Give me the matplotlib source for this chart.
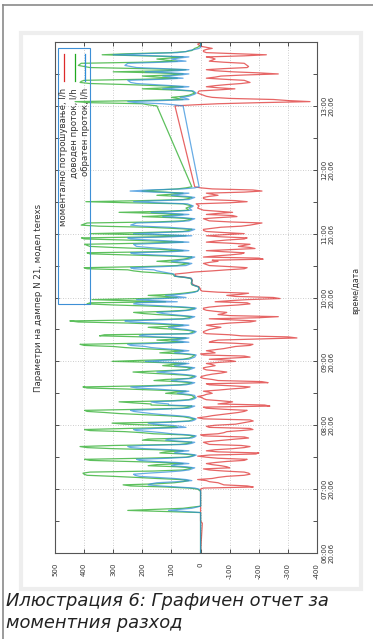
import numpy as np
import matplotlib
matplotlib.use("Agg")
import matplotlib.pyplot as plt
from matplotlib.lines import Line2D
from matplotlib.patches import Rectangle

W, H = 373, 639

# time axis in minutes after 06:00 (20.06)
idle_min = [0, 28, 30, 38, 40, 42, 44, 58]
idle_red = [0, -6, 0, 0, 0, 0, 0, 0]
idle_green = [0, 0, 0, 0, 250, 60, 0, 0]
idle_blue = [0, 0, 0, 0, 110, 30, 0, 0]

# 07:00 - 11:44, one reading per minute
day_start = 60
green_day = [
    10, 40, 120, 240, 266, 150, 90, 60, 40, 70, 150, 220, 300, 390, 400, 404, 380, 160, 60, 40,
    30, 80, 180, 150, 60, 120, 250, 380, 398, 200, 50, 30, 20, 60, 140, 120, 60, 150, 300, 390,
    414, 300, 70, 40, 30, 100, 200, 180, 40, 30, 20, 60, 160, 200, 260, 380, 398, 250, 80, 100,
    150, 260, 304, 120, 40, 30, 20, 40, 60, 120, 200, 280, 330, 390, 398, 200, 60, 40, 30, 170,
    170, 230, 280, 100, 40, 30, 20, 25, 30, 60, 120, 90, 50, 150, 250, 390, 404, 200, 70, 40,
    30, 80, 160, 120, 40, 30, 20, 50, 110, 180, 232, 150, 50, 40, 30, 80, 130, 100, 50, 150,
    304, 200, 60, 40, 30, 25, 20, 60, 140, 100, 60, 120, 200, 260, 300, 400, 414, 220, 60, 100,
    150, 80, 50, 200, 347, 330, 40, 30, 20, 40, 80, 140, 180, 100, 60, 150, 250, 420, 449, 200,
    60, 40, 30, 80, 150, 200, 230, 120, 50, 30, 20, 80, 180, 300, 390, 380, 120, 250, 373, 200,
    80, 120, 180, 100, 60, 30, 10, 8, 5, 6, 8, 20, 30, 32, 32, 30, 30, 32, 35, 60,
    90, 92, 95, 140, 198, 230, 250, 390, 400, 200, 80, 60, 40, 90, 150, 100, 60, 40, 30, 120,
    250, 380, 390, 150, 60, 120, 200, 300, 380, 390, 398, 200, 60, 150, 260, 400, 409, 150, 50, 200,
    380, 200, 60, 40, 30, 100, 180, 350, 410, 400, 390, 150, 60, 40, 30, 100, 200, 120, 60, 150,
    280, 120, 40, 45, 50, 40, 30, 45, 60, 250, 394, 200, 60, 40, 30, 80, 150, 100, 60, 120,
    201, 150, 80, 50, 30,
]
blue_day = [
    5, 20, 80, 140, 180, 170, 150, 80, 30, 50, 90, 150, 210, 225, 230, 180, 120, 70, 40, 30,
    20, 50, 100, 90, 40, 80, 160, 210, 220, 110, 40, 25, 15, 40, 90, 80, 40, 100, 190, 240,
    250, 200, 50, 30, 20, 70, 120, 110, 30, 20, 15, 40, 100, 130, 170, 220, 230, 160, 50, 70,
    100, 160, 180, 90, 30, 20, 15, 30, 40, 80, 130, 170, 200, 230, 240, 130, 40, 30, 20, 110,
    110, 150, 170, 70, 30, 20, 15, 20, 20, 40, 80, 60, 40, 100, 150, 220, 240, 130, 50, 30,
    20, 50, 100, 80, 30, 20, 15, 30, 70, 110, 150, 100, 40, 30, 20, 50, 90, 70, 40, 100,
    190, 130, 40, 30, 20, 18, 15, 40, 90, 70, 40, 80, 130, 170, 190, 240, 250, 140, 40, 70,
    100, 60, 40, 150, 210, 200, 30, 20, 15, 30, 50, 90, 110, 70, 40, 100, 160, 240, 260, 130,
    40, 30, 20, 60, 100, 130, 150, 80, 40, 20, 15, 50, 120, 190, 230, 220, 80, 160, 220, 130,
    50, 80, 120, 70, 40, 20, 10, 7, 5, 6, 8, 18, 28, 30, 30, 30, 30, 30, 32, 55,
    88, 90, 92, 110, 130, 150, 160, 230, 240, 130, 50, 40, 30, 60, 100, 70, 40, 30, 20, 80,
    160, 230, 240, 100, 40, 80, 130, 180, 220, 225, 230, 130, 40, 100, 170, 240, 250, 100, 30, 120,
    230, 130, 40, 30, 20, 60, 110, 200, 240, 230, 220, 90, 40, 30, 20, 60, 130, 80, 40, 100,
    170, 80, 30, 35, 40, 30, 25, 35, 45, 150, 230, 130, 40, 30, 20, 50, 100, 70, 40, 160,
    242, 180, 60, 20, 5,
]
red_day = [
    0, -10, -181, -160, -80, -70, -60, -30, -20, 10, -40, -60, -90, -150, -170, -165, -150, -80, -30, -10,
    -100, -90, -70, -40, -20, -50, -90, -150, -160, -60, -20, 10, -30, -190, -200, -60, -20, -50, -110, -150,
    -170, -140, -30, -20, -10, -40, -80, -120, -165, -150, -10, 0, -60, -80, -90, -140, -180, -170, -30, -20,
    -50, -120, -140, -160, -181, -170, -10, 10, -20, -40, -70, -100, -130, -150, -160, -80, -20, -10, -238, -220,
    -60, -90, -110, -70, -20, -10, -5, 10, -10, -20, -40, -30, -10, -60, -100, -150, -170, -110, -30, -20,
    -232, -210, -60, -40, -10, 0, -5, -20, -40, -70, -90, -60, -20, -10, -10, -30, -50, -40, -20, -60,
    -120, -100, -30, -100, -170, -150, -10, 0, -50, -40, -20, -50, -80, -100, -120, -170, -180, -120, -30, -40,
    -60, -200, -331, -300, -140, -100, -20, -10, -10, -20, -30, -50, -70, -40, -20, -60, -100, -170, -190, -110,
    -30, -200, -267, -100, -60, -80, -90, -50, -20, -10, -10, -30, -70, -130, -170, -160, -50, -100, -160, -273,
    -250, -120, -90, -140, -165, -60, -5, 0, 0, 3, 5, 15, 25, 28, 30, 30, 28, 30, 32, 50,
    85, 86, 88, 50, 20, -40, -90, -150, -160, -100, -30, -20, -10, -30, -60, -40, -215, -200, -10, -50,
    -100, -140, -150, -80, -20, -100, -187, -170, -130, -150, -170, -100, -20, -50, -90, -150, -160, -70, -20, -80,
    -150, -80, -20, -10, -10, -40, -70, -140, -170, -190, -211, -100, -30, -20, -10, -60, -125, -110, -20, -60,
    -110, -60, -10, 0, 10, 8, 5, 10, 15, -100, -160, -120, -20, -10, -10, -30, -60, -40, -20, -150,
    -211, -180, -40, 0, 20,
]

# 13:00 - 14:00, one reading per minute (no data 11:44 - 13:00)
late_start = 420
green_late = [
    150, 180, 200, 380, 431, 200, 60, 80, 100, 60, 40, 30, 20, 25, 30, 100, 200, 120, 60, 150,
    250, 380, 414, 410, 400, 200, 80, 150, 200, 100, 60, 150, 300, 120, 50, 200, 380, 400, 420, 415,
    410, 200, 80, 120, 150, 100, 60, 200, 338, 250, 100, 50, 30, 25, 20, 10, 5, 0, 0, 0, 0,
]
blue_late = [
    60, 90, 130, 220, 250, 130, 40, 50, 70, 40, 30, 20, 15, 20, 25, 70, 130, 80, 40, 100,
    160, 220, 240, 245, 250, 130, 60, 100, 130, 70, 40, 100, 190, 80, 40, 130, 220, 240, 260, 255,
    250, 130, 50, 80, 100, 70, 40, 150, 300, 200, 80, 50, 40, 20, 5, 0, 0, 0, 0, 0, 0,
]
red_late = [
    88, 20, -60, -200, -376, -300, -250, -100, -40, -20, -10, 0, 10, 8, 5, -60, -118, -60, -20, -50,
    -90, -140, -170, -160, -150, -80, -20, -50, -70, -150, -267, -200, -110, -50, -20, -80, -160, -165, -160, -155,
    -150, -80, -30, -40, -50, -40, -20, -150, -226, -120, -20, -10, -10, -20, -40, -20, 0, 5, 10, 0, 0,
]

hour_ticks = [0, 60, 120, 180, 240, 300, 360, 420]
hour_labels = ["06:00\n20.06", "07:00\n20.06", "08:00\n20.06", "09:00\n20.06",
               "10:00\n20.06", "11:00\n20.06", "12:00\n20.06", "13:00\n20.06"]
value_ticks = [500, 400, 300, 200, 100, 0, -100, -200, -300, -400]

series_names = ["моментално потрошување, l/h", "доводен проток, l/h", "обратен проток, l/h"]
series_colors = ["#dd2a2a", "#1fa81f", "#2f8ddb"]
title = "Параметри на дампер N 21, модел terexs"
caption = ["Илюстрация 6: Графичен отчет за", "моментния разход"]

t = np.concatenate([idle_min,
                    day_start + np.arange(len(green_day)),
                    late_start + np.arange(len(green_late))])
red = np.concatenate([idle_red, red_day, red_late])
green = np.concatenate([idle_green, green_day, green_late])
blue = np.concatenate([idle_blue, blue_day, blue_late])


def fx(px):
    return px / W


def fy(py):
    return 1 - py / H


fig = plt.figure(figsize=(W / 100, H / 100), dpi=100)
fig.patch.set_facecolor("white")

# page frame and light panel behind the chart
fig.add_artist(Line2D([fx(3), fx(3)], [0, fy(5)], color="#8a8a8a", lw=1.2, transform=fig.transFigure))
fig.add_artist(Line2D([fx(3), 1], [fy(5), fy(5)], color="#8a8a8a", lw=1.2, transform=fig.transFigure))
fig.add_artist(Rectangle((fx(21), fy(589)), fx(340), 556 / H, transform=fig.transFigure,
                         facecolor="white", edgecolor="#eeeeee", lw=3, zorder=0))

ax = fig.add_axes([fx(55), fy(553), fx(262), 511 / H])
for vals, col in zip([red, green, blue], series_colors):
    ax.plot(vals, t, color=col, lw=0.9, alpha=0.72)

ax.set_xlim(500, -400)
ax.set_ylim(0, 480)
ax.set_xticks(value_ticks)
ax.set_xticklabels([str(v) for v in value_ticks], rotation=90, fontsize=5, color="#333333")
ax.set_yticks(hour_ticks)
ax.set_yticks(np.arange(30, 480, 60), minor=True)
ax.set_yticklabels(hour_labels, rotation=90, fontsize=5, color="#333333", va="center")
ax.tick_params(axis="both", which="both", direction="in", length=3, width=0.6,
               top=True, bottom=True, left=True, right=True, color="#333333")
ax.tick_params(axis="y", labelleft=False, labelright=True, pad=3)
ax.tick_params(axis="x", pad=7)
ax.grid(True, which="major", linestyle=(0, (1, 2)), color="#bdbdbd", lw=0.6)
for sp in ax.spines.values():
    sp.set_color("#555555")
    sp.set_linewidth(0.8)

fig.text(fx(356), fy(290), "време/дата", rotation=90, fontsize=5.6, color="#333333",
         ha="center", va="center")
fig.text(fx(39), fy(298), title, rotation=90, fontsize=6.2, color="#333333",
         ha="center", va="center")

# legend drawn by hand since the whole chart is turned sideways
fig.add_artist(Rectangle((fx(58), fy(304)), fx(32), 256 / H, transform=fig.transFigure,
                         facecolor="none", edgecolor="#3d8fd6", lw=0.8, zorder=5))
for k, (name, col) in enumerate(zip(series_names, series_colors)):
    xk = 64 + 10.5 * k
    fig.add_artist(Line2D([fx(xk), fx(xk)], [fy(54), fy(81)], color=col, lw=0.9,
                          transform=fig.transFigure, zorder=6))
    fig.text(fx(xk), fy(88), name, rotation=90, fontsize=6.2, color="#333333",
             ha="center", va="top", zorder=6)

fig.text(fx(6), fy(606), caption[0], fontsize=12.9, style="italic", family="DejaVu Sans",
         color="#222222", va="baseline")
fig.text(fx(6), fy(628), caption[1], fontsize=12.9, style="italic", family="DejaVu Sans",
         color="#222222", va="baseline")

fig.savefig("out.png", dpi=100)
